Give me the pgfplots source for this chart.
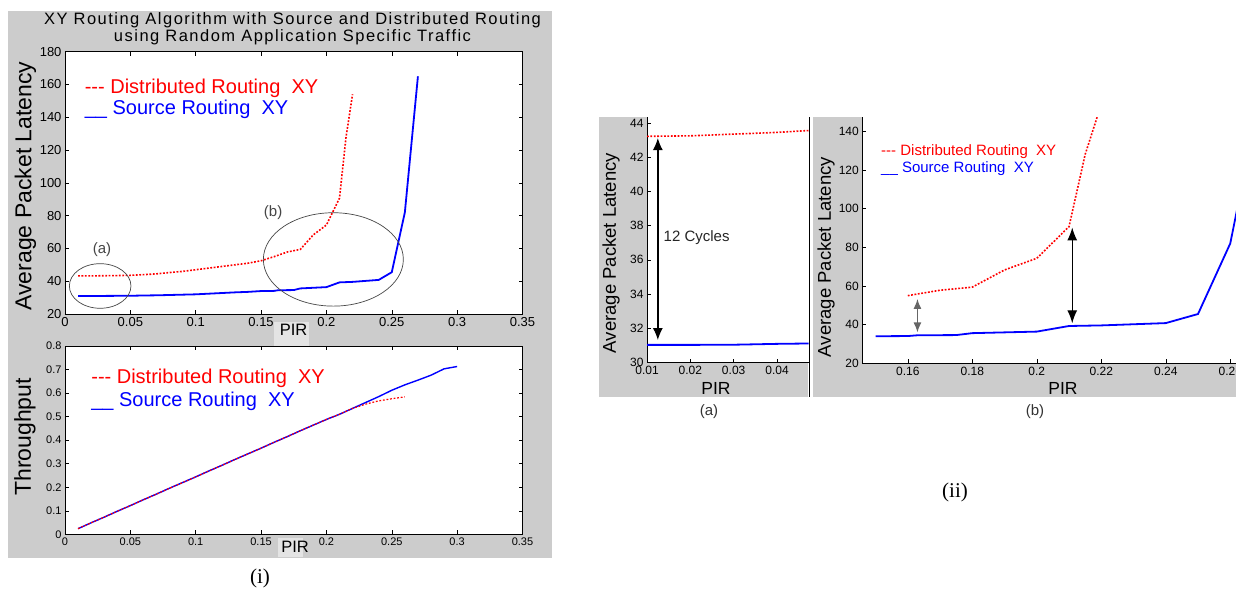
\documentclass[border=0pt]{standalone}
\usepackage{fontspec}
\setmainfont{Liberation Sans}
\newfontfamily\seriffont{Liberation Serif}
\newfontfamily\titlefont[LetterSpace=9]{Liberation Sans}
\usepackage{pgfplots}
\pgfplotsset{compat=1.18}
\usepackage{pgfplotstable}
\usetikzlibrary{arrows.meta}

\definecolor{panelgray}{RGB}{204,204,204}
\definecolor{boxgray}{RGB}{228,228,228}
\definecolor{annot}{RGB}{70,70,70}
\newcommand{\fs}[1]{\fontsize{#1pt}{#1pt}\selectfont}

% Average packet latency, distributed routing XY
\pgfplotstableread{
pir lat
0.01 43.22
0.02 43.25
0.03 43.35
0.04 43.45
0.05 43.6
0.06 44.0
0.07 44.5
0.08 45.3
0.09 46.0
0.10 47.0
0.11 48.0
0.12 49.0
0.13 50.0
0.14 51.0
0.15 52.5
0.16 55.0
0.17 57.8
0.18 59.4
0.19 68.3
0.20 74.3
0.21 90.7
0.215 128
0.22 154
}\latdist
% Average packet latency, source routing XY
\pgfplotstableread{
pir lat
0.01 31.03
0.02 31.03
0.03 31.04
0.04 31.09
0.05 31.12
0.06 31.3
0.07 31.4
0.08 31.6
0.09 31.8
0.10 32.0
0.11 32.4
0.12 32.8
0.13 33.2
0.14 33.5
0.15 34.0
0.16 34.1
0.163 34.5
0.175 34.6
0.18 35.6
0.19 36.0
0.20 36.4
0.21 39.3
0.22 39.6
0.23 40.2
0.24 40.8
0.25 45.5
0.26 82.0
0.27 165
}\latsrc
% Throughput, source routing XY
\pgfplotstableread{
pir thr
0.01 0.024
0.02 0.049
0.03 0.073
0.04 0.098
0.05 0.122
0.06 0.147
0.07 0.171
0.08 0.196
0.09 0.220
0.10 0.244
0.11 0.269
0.12 0.293
0.13 0.318
0.14 0.342
0.15 0.366
0.16 0.391
0.17 0.415
0.18 0.440
0.19 0.464
0.20 0.488
0.21 0.510
0.22 0.535
0.23 0.560
0.24 0.585
0.25 0.612
0.26 0.635
0.27 0.655
0.28 0.676
0.29 0.703
0.30 0.713
}\thrsrc
% Throughput, distributed routing XY
\pgfplotstableread{
pir thr
0.01 0.024
0.02 0.049
0.03 0.073
0.04 0.098
0.05 0.122
0.06 0.147
0.07 0.171
0.08 0.196
0.09 0.220
0.10 0.244
0.11 0.269
0.12 0.293
0.13 0.318
0.14 0.342
0.15 0.366
0.16 0.391
0.17 0.415
0.18 0.440
0.19 0.464
0.20 0.488
0.21 0.510
0.22 0.535
0.23 0.553
0.24 0.567
0.25 0.576
0.26 0.584
}\thrdist

\pgfplotsset{
  matstyle/.style={scale only axis, anchor=south west,
    axis background/.style={fill=white},
    tick align=inside, major tick length=4pt,
    tick style={black, line width=0.5pt},
    axis line style={black, line width=0.6pt},
    scaled ticks=false},
  redline/.style={red, line width=1.6pt, dash pattern=on 1.8pt off 1.6pt},
  blueline/.style={blue, line width=1.8pt},
}

\begin{document}
\begin{tikzpicture}
\useasboundingbox (0,0) rectangle (1236pt,-590pt);
\clip (0,0) rectangle (1236pt,-590pt);
% panel backgrounds
\fill[panelgray] (8pt,-11pt) rectangle (552pt,-558pt);
\fill[boxgray] (274pt,-322pt) rectangle (309pt,-346pt);
\fill[boxgray] (278pt,-538pt) rectangle (303pt,-557pt);
\fill[panelgray] (599pt,-117pt) rectangle (808pt,-397pt);
\fill[panelgray] (812.5pt,-117pt) rectangle (1236pt,-397pt);

% ---------- (i) top: latency ----------
\begin{axis}[matstyle, at={(65pt,-314pt)}, width=457.5pt, height=262.3pt,
  xmin=0, xmax=0.35, ymin=20, ymax=180,
  xtick={0,0.05,0.1,0.15,0.2,0.25,0.3,0.35},
  xticklabels={0,0.05,0.1,0.15,0.2,0.25,0.3,0.35},
  ytick={20,40,60,80,100,120,140,160,180},
  yticklabels={20,40,60,80,100,120,140,160,180},
  tick label style={font=\fs{13}},
  title={XY Routing Algorithm with Source and Distributed Routing\\using Random Application Specific Traffic},
  title style={at={(axis description cs:0.4973,1.128)}, anchor=north, inner sep=0pt, align=center, font=\titlefont\fontsize{16.5pt}{16.8pt}\selectfont},
  ylabel={Average Packet Latency},
  ylabel style={at={(axis description cs:-0.0863,0.488)}, anchor=center, font=\fs{23}},
  xlabel={PIR},
  xlabel style={at={(axis description cs:0.4995,-0.061)}, anchor=center, font=\fs{16.5}},
]
\addplot[blueline] table[x=pir,y=lat]{\latsrc};
\addplot[redline] table[x=pir,y=lat]{\latdist};
\draw[annot, line width=0.7pt] (axis cs:0.0269,37.1) ellipse [x radius=30.8pt, y radius=22.3pt];
\draw[annot, line width=0.7pt] (axis cs:0.2053,53.3) ellipse [x radius=70pt, y radius=46.7pt];
\node[annot, font=\fs{15}] at (axis cs:0.0283,59) {(a)};
\node[annot, font=\fs{15}] at (axis cs:0.1592,82) {(b)};
\node[red, anchor=base west, inner sep=0pt, font=\fs{20}] at (axis cs:0.015,154.6) {-{}-{}- Distributed Routing\ \ XY};
\node[blue, anchor=base west, inner sep=0pt, font=\fs{20}] at (axis cs:0.015,141.4) {\_\_ Source Routing\ \ XY};
\end{axis}

% ---------- (i) bottom: throughput ----------
\begin{axis}[matstyle, at={(65pt,-534.3pt)}, width=457.5pt, height=188.3pt,
  xmin=0, xmax=0.35, ymin=0, ymax=0.8,
  xtick={0,0.05,0.1,0.15,0.2,0.25,0.3,0.35},
  xticklabels={0,0.05,0.1,0.15,0.2,0.25,0.3,0.35},
  ytick={0,0.1,0.2,0.3,0.4,0.5,0.6,0.7,0.8},
  yticklabels={0,0.1,0.2,0.3,0.4,0.5,0.6,0.7,0.8},
  tick label style={font=\fs{11}},
  ylabel={Throughput},
  ylabel style={at={(axis description cs:-0.0874,0.517)}, anchor=center, font=\fs{23}},
  xlabel={PIR},
  xlabel style={at={(axis description cs:0.503,-0.0674)}, anchor=center, font=\fs{16.5}},
]
\addplot[blue, line width=1.4pt] table[x=pir,y=thr]{\thrsrc};
\addplot[red, line width=1.2pt, dash pattern=on 1.8pt off 1.8pt] table[x=pir,y=thr]{\thrdist};
\node[red, anchor=base west, inner sep=0pt, font=\fs{20}] at (axis cs:0.020,0.6415) {-{}-{}- Distributed Routing\ \ XY};
\node[blue, anchor=base west, inner sep=0pt, font=\fs{20}] at (axis cs:0.020,0.545) {\_\_ Source Routing\ \ XY};
\end{axis}

% ---------- (ii)(a) ----------
\begin{axis}[matstyle, at={(647pt,-362.5pt)}, width=161.5pt, height=245.5pt,
  axis x line*=bottom, axis y line*=left,
  xmin=0.01, xmax=0.04727, ymin=30, ymax=44.35,
  xtick={0.01,0.02,0.03,0.04}, xticklabels={0.01,0.02,0.03,0.04},
  ytick={30,32,34,36,38,40,42,44}, yticklabels={30,32,34,36,38,40,42,44},
  tick label style={font=\fs{12}},
  ylabel={Average Packet Latency},
  ylabel style={at={(axis description cs:-0.223,0.446)}, anchor=center, font=\fs{18.5}},
  xlabel={PIR},
  xlabel style={at={(axis description cs:0.427,-0.104)}, anchor=center, font=\fs{17.5}},
]
\addplot[blueline] table[x=pir,y=lat]{\latsrc};
\addplot[redline] table[x=pir,y=lat]{\latdist};
\draw[black, line width=1.4pt, {Latex[length=12pt,width=10pt]}-{Latex[length=12pt,width=10pt]}] (axis cs:0.0125,43.12) -- (axis cs:0.0125,31.31);
\node[anchor=west, inner sep=0pt, text=black!85, font=\fs{15}] at (axis cs:0.0138,37.3) {12 Cycles};
\end{axis}
\draw[line width=1.5pt] (809.5pt,-117pt) -- (809.5pt,-397pt);

% ---------- (ii)(b) ----------
\begin{axis}[matstyle, at={(862.3pt,-363.3pt)}, width=400.2pt, height=246.3pt,
  axis x line*=bottom, axis y line*=left,
  xmin=0.1459, xmax=0.27, ymin=20, ymax=147.4,
  xtick={0.16,0.18,0.2,0.22,0.24,0.26}, xticklabels={0.16,0.18,0.2,0.22,0.24,0.26},
  ytick={20,40,60,80,100,120,140}, yticklabels={20,40,60,80,100,120,140},
  tick label style={font=\fs{12}},
  ylabel={Average Packet Latency},
  ylabel style={at={(axis description cs:-0.0907,0.4316)}, anchor=center, font=\fs{18.5}},
  xlabel={PIR},
  xlabel style={at={(axis description cs:0.5015,-0.1015)}, anchor=center, font=\fs{17.5}},
]
\addplot[blueline, restrict x to domain=0.15:0.3] table[x=pir,y=lat]{\latsrc};
\addplot[redline, restrict x to domain=0.16:0.3] table[x=pir,y=lat]{\latdist};
\draw[black!60, line width=1.3pt, {Latex[length=10pt,width=8pt]}-{Latex[length=10pt,width=8pt]}] (axis cs:0.1630,53.3) -- (axis cs:0.1630,36.0);
\draw[black, line width=1.3pt, {Latex[length=13pt,width=10pt]}-{Latex[length=13pt,width=10pt]}] (axis cs:0.2110,90.3) -- (axis cs:0.2110,40.7);
\node[red, anchor=base west, inner sep=0pt, font=\fs{15}] at (axis cs:0.1517,127.4) {-{}-{}- Distributed Routing\ \ XY};
\node[blue, anchor=base west, inner sep=0pt, font=\fs{15}] at (axis cs:0.1517,118.6) {\_\_ Source Routing\ \ XY};
\end{axis}

% panel captions
\node[text=black!80, font=\fs{15}] at (709pt,-412pt) {(a)};
\node[text=black!80, font=\fs{15}] at (1035pt,-412pt) {(b)};
\node[font=\seriffont\fs{21}] at (260pt,-578pt) {(i)};
\node[font=\seriffont\fs{21}] at (955pt,-492pt) {(ii)};
\end{tikzpicture}
\end{document}
